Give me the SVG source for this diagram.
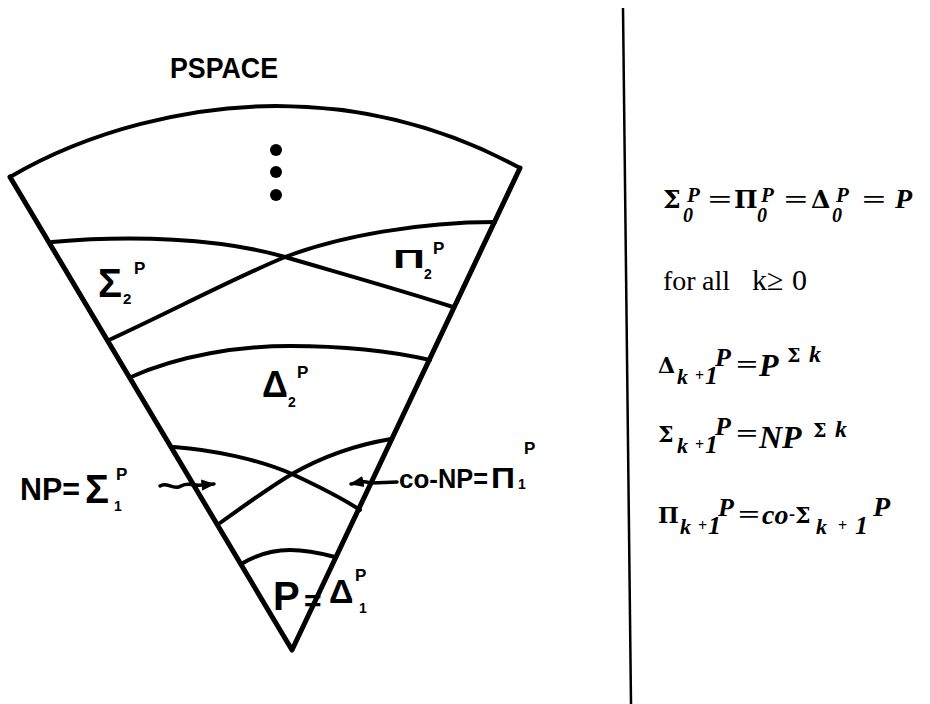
<svg xmlns="http://www.w3.org/2000/svg" width="930" height="704" viewBox="0 0 930 704">
<defs>
<style>
.edge{fill:none;stroke:#000;stroke-width:5;stroke-linejoin:round;stroke-linecap:round}
.arc{fill:none;stroke:#000;stroke-width:4;stroke-linecap:round}
.hand{font-family:"Liberation Sans","DejaVu Sans",sans-serif;font-weight:bold;fill:#000}
.tm{font-family:"Liberation Serif","DejaVu Serif",serif;font-weight:bold;fill:#000}
.gk{font-family:"DejaVu Serif","Liberation Serif",serif;font-weight:bold;fill:#000}
.it{font-style:italic}
.rm{font-family:"Liberation Serif","DejaVu Serif",serif;fill:#000}
.arrow{fill:none;stroke:#000;stroke-width:3.5;stroke-linecap:round}
</style>
<marker id="head" viewBox="0 0 10 10" refX="9" refY="5" markerWidth="4" markerHeight="4" orient="auto" markerUnits="strokeWidth">
<path d="M0,1 L10,5 L0,9 Z" fill="#000"/>
</marker>
</defs>
<rect width="930" height="704" fill="#fff"/>

<!-- divider -->
<line x1="623" y1="8" x2="631" y2="704" stroke="#000" stroke-width="2.5"/>

<!-- wedge outline -->
<g id="wedge">
<path class="edge" d="M10,177 L292,650 L520,168"/>
<path class="arc" d="M10,177 C90,130 190,106 276,106 C370,106 450,130 520,168"/>
<circle cx="276" cy="150" r="6"/>
<circle cx="276" cy="172" r="6"/>
<circle cx="276" cy="195" r="6"/>
</g>

<g id="sigma2-pi2">
<path class="arc" d="M52,242 C130,235 220,238 285,257 C350,276 400,290 453,307"/>
<path class="arc" d="M109,340 C170,312 230,280 285,257 C340,236 420,222 495,222"/>
</g>

<g id="delta2">
<path class="arc" d="M131,377 C180,355 240,346 290,346 C350,346 395,352 430,360"/>
</g>

<g id="np-conp">
<path class="arc" d="M174,447 C215,450 260,460 292,474 C320,487 342,498 360,510"/>
<path class="arc" d="M220,523 C245,505 270,487 292,474 C320,458 355,445 391,439"/>
</g>

<g id="p">
<path class="arc" d="M243,563 C260,553 278,550 290,550 C305,550 320,553 335,557"/>
</g>

<!-- labels -->
<g id="label-pspace">
<text class="hand" x="170" y="78" font-size="30" textLength="108" lengthAdjust="spacingAndGlyphs">PSPACE</text>
</g>
<g id="label-sigma2">
<text class="hand" x="98" y="297" font-size="40">Σ</text>
<text class="hand" x="123" y="304" font-size="15">2</text>
<text class="hand" x="134" y="274" font-size="17">P</text>
</g>
<g id="label-pi2">
<text class="hand" x="393" y="268" font-size="26" textLength="32" lengthAdjust="spacingAndGlyphs">Π</text>
<text class="hand" x="424" y="279" font-size="14">2</text>
<text class="hand" x="433" y="254" font-size="17">P</text>
</g>
<g id="label-delta2">
<text class="hand" x="262" y="397" font-size="36">Δ</text>
<text class="hand" x="288" y="407" font-size="14">2</text>
<text class="hand" x="297" y="378" font-size="17">P</text>
</g>
<g id="label-np">
<text class="hand" x="20" y="500" font-size="31" textLength="60" lengthAdjust="spacingAndGlyphs">NP=</text>
<text class="hand" x="85" y="503" font-size="40">Σ</text>
<text class="hand" x="114" y="511" font-size="14">1</text>
<text class="hand" x="116" y="480" font-size="17">P</text>
</g>
<g id="label-conp">
<text class="hand" x="399" y="488" font-size="26">co-</text>
<text class="hand" x="438" y="488" font-size="27" textLength="50" lengthAdjust="spacingAndGlyphs">NP=</text>
<text class="hand" x="491" y="488" font-size="30" textLength="24" lengthAdjust="spacingAndGlyphs">Π</text>
<text class="hand" x="518" y="489" font-size="14">1</text>
<text class="hand" x="524" y="454" font-size="17">P</text>
</g>
<g id="label-p">
<text class="hand" x="273" y="610" font-size="40">P</text>
<text class="hand" x="304" y="611" font-size="30">=</text>
<text class="hand" x="329" y="603" font-size="34">Δ</text>
<text class="hand" x="359" y="613" font-size="14">1</text>
<text class="hand" x="355" y="581" font-size="17">P</text>
</g>

<!-- connectors -->
<g id="connectors">
<path class="arrow" marker-end="url(#head)" d="M160,486 C167,481 173,491 181,486 C188,482 194,486 202,485 L214,484"/>
<path class="arrow" marker-end="url(#head)" d="M397,482 L372,483 C366,483 362,479 356,483 L351,484"/>
</g>

<!-- right-hand definitions -->
<g id="defs-text">
<g id="line1">
<text class="gk" x="663" y="208" font-size="25">Σ</text>
<text class="tm it" x="683" y="222" font-size="20">0</text>
<text class="tm it" x="687" y="202" font-size="21">P</text>
<text class="tm" x="708" y="208" font-size="26" textLength="24" lengthAdjust="spacingAndGlyphs">=</text>
<text class="gk" x="734" y="208" font-size="25">Π</text>
<text class="tm it" x="757" y="222" font-size="20">0</text>
<text class="tm it" x="761" y="202" font-size="21">P</text>
<text class="tm" x="784" y="208" font-size="26" textLength="24" lengthAdjust="spacingAndGlyphs">=</text>
<text class="gk" x="811" y="208" font-size="25">Δ</text>
<text class="tm it" x="832" y="222" font-size="20">0</text>
<text class="tm it" x="836" y="202" font-size="21">P</text>
<text class="tm" x="862" y="208" font-size="26" textLength="24" lengthAdjust="spacingAndGlyphs">=</text>
<text class="tm it" x="895" y="208" font-size="28">P</text>
</g>
<g id="line2">
<text class="rm" x="663" y="290" font-size="28">for</text>
<text class="rm" x="702" y="290" font-size="28">all</text>
<text class="rm" x="752" y="290" font-size="30">k</text>
<text class="rm" x="767" y="290" font-size="30">≥</text>
<text class="rm" x="792" y="290" font-size="30">0</text>
</g>
<g id="line3">
<text class="gk" x="658" y="373" font-size="22">Δ</text>
<text class="tm it" x="677" y="384" font-size="22">k</text>
<text class="tm" x="695" y="381" font-size="16">+</text>
<text class="tm it" x="705" y="384" font-size="26">1</text>
<text class="tm it" x="715" y="366" font-size="26">P</text>
<text class="tm" x="736" y="373" font-size="26" textLength="22" lengthAdjust="spacingAndGlyphs">=</text>
<text class="tm it" x="759" y="376" font-size="32">P</text>
<text class="gk" x="787" y="362" font-size="19">Σ</text>
<text class="tm it" x="809" y="362" font-size="24">k</text>
</g>
<g id="line4">
<text class="gk" x="658" y="442" font-size="22">Σ</text>
<text class="tm it" x="677" y="453" font-size="22">k</text>
<text class="tm" x="695" y="450" font-size="16">+</text>
<text class="tm it" x="705" y="453" font-size="26">1</text>
<text class="tm it" x="715" y="435" font-size="26">P</text>
<text class="tm" x="736" y="442" font-size="26" textLength="22" lengthAdjust="spacingAndGlyphs">=</text>
<text class="tm it" x="759" y="448" font-size="32">NP</text>
<text class="gk" x="813" y="437" font-size="19">Σ</text>
<text class="tm it" x="835" y="437" font-size="24">k</text>
</g>
<g id="line5">
<text class="gk" x="658" y="523" font-size="22">Π</text>
<text class="tm it" x="680" y="534" font-size="22">k</text>
<text class="tm" x="698" y="531" font-size="16">+</text>
<text class="tm it" x="708" y="534" font-size="26">1</text>
<text class="tm it" x="718" y="516" font-size="26">P</text>
<text class="tm" x="738" y="523" font-size="26" textLength="22" lengthAdjust="spacingAndGlyphs">=</text>
<text class="tm it" x="762" y="524" font-size="28">co</text>
<text class="tm" x="789" y="520" font-size="18">-</text>
<text class="gk" x="795" y="523" font-size="22">Σ</text>
<text class="tm it" x="816" y="534" font-size="22">k</text>
<text class="tm" x="838" y="531" font-size="16">+</text>
<text class="tm it" x="855" y="534" font-size="26">1</text>
<text class="tm it" x="873" y="516" font-size="28">P</text>
</g>
</g>
</svg>
